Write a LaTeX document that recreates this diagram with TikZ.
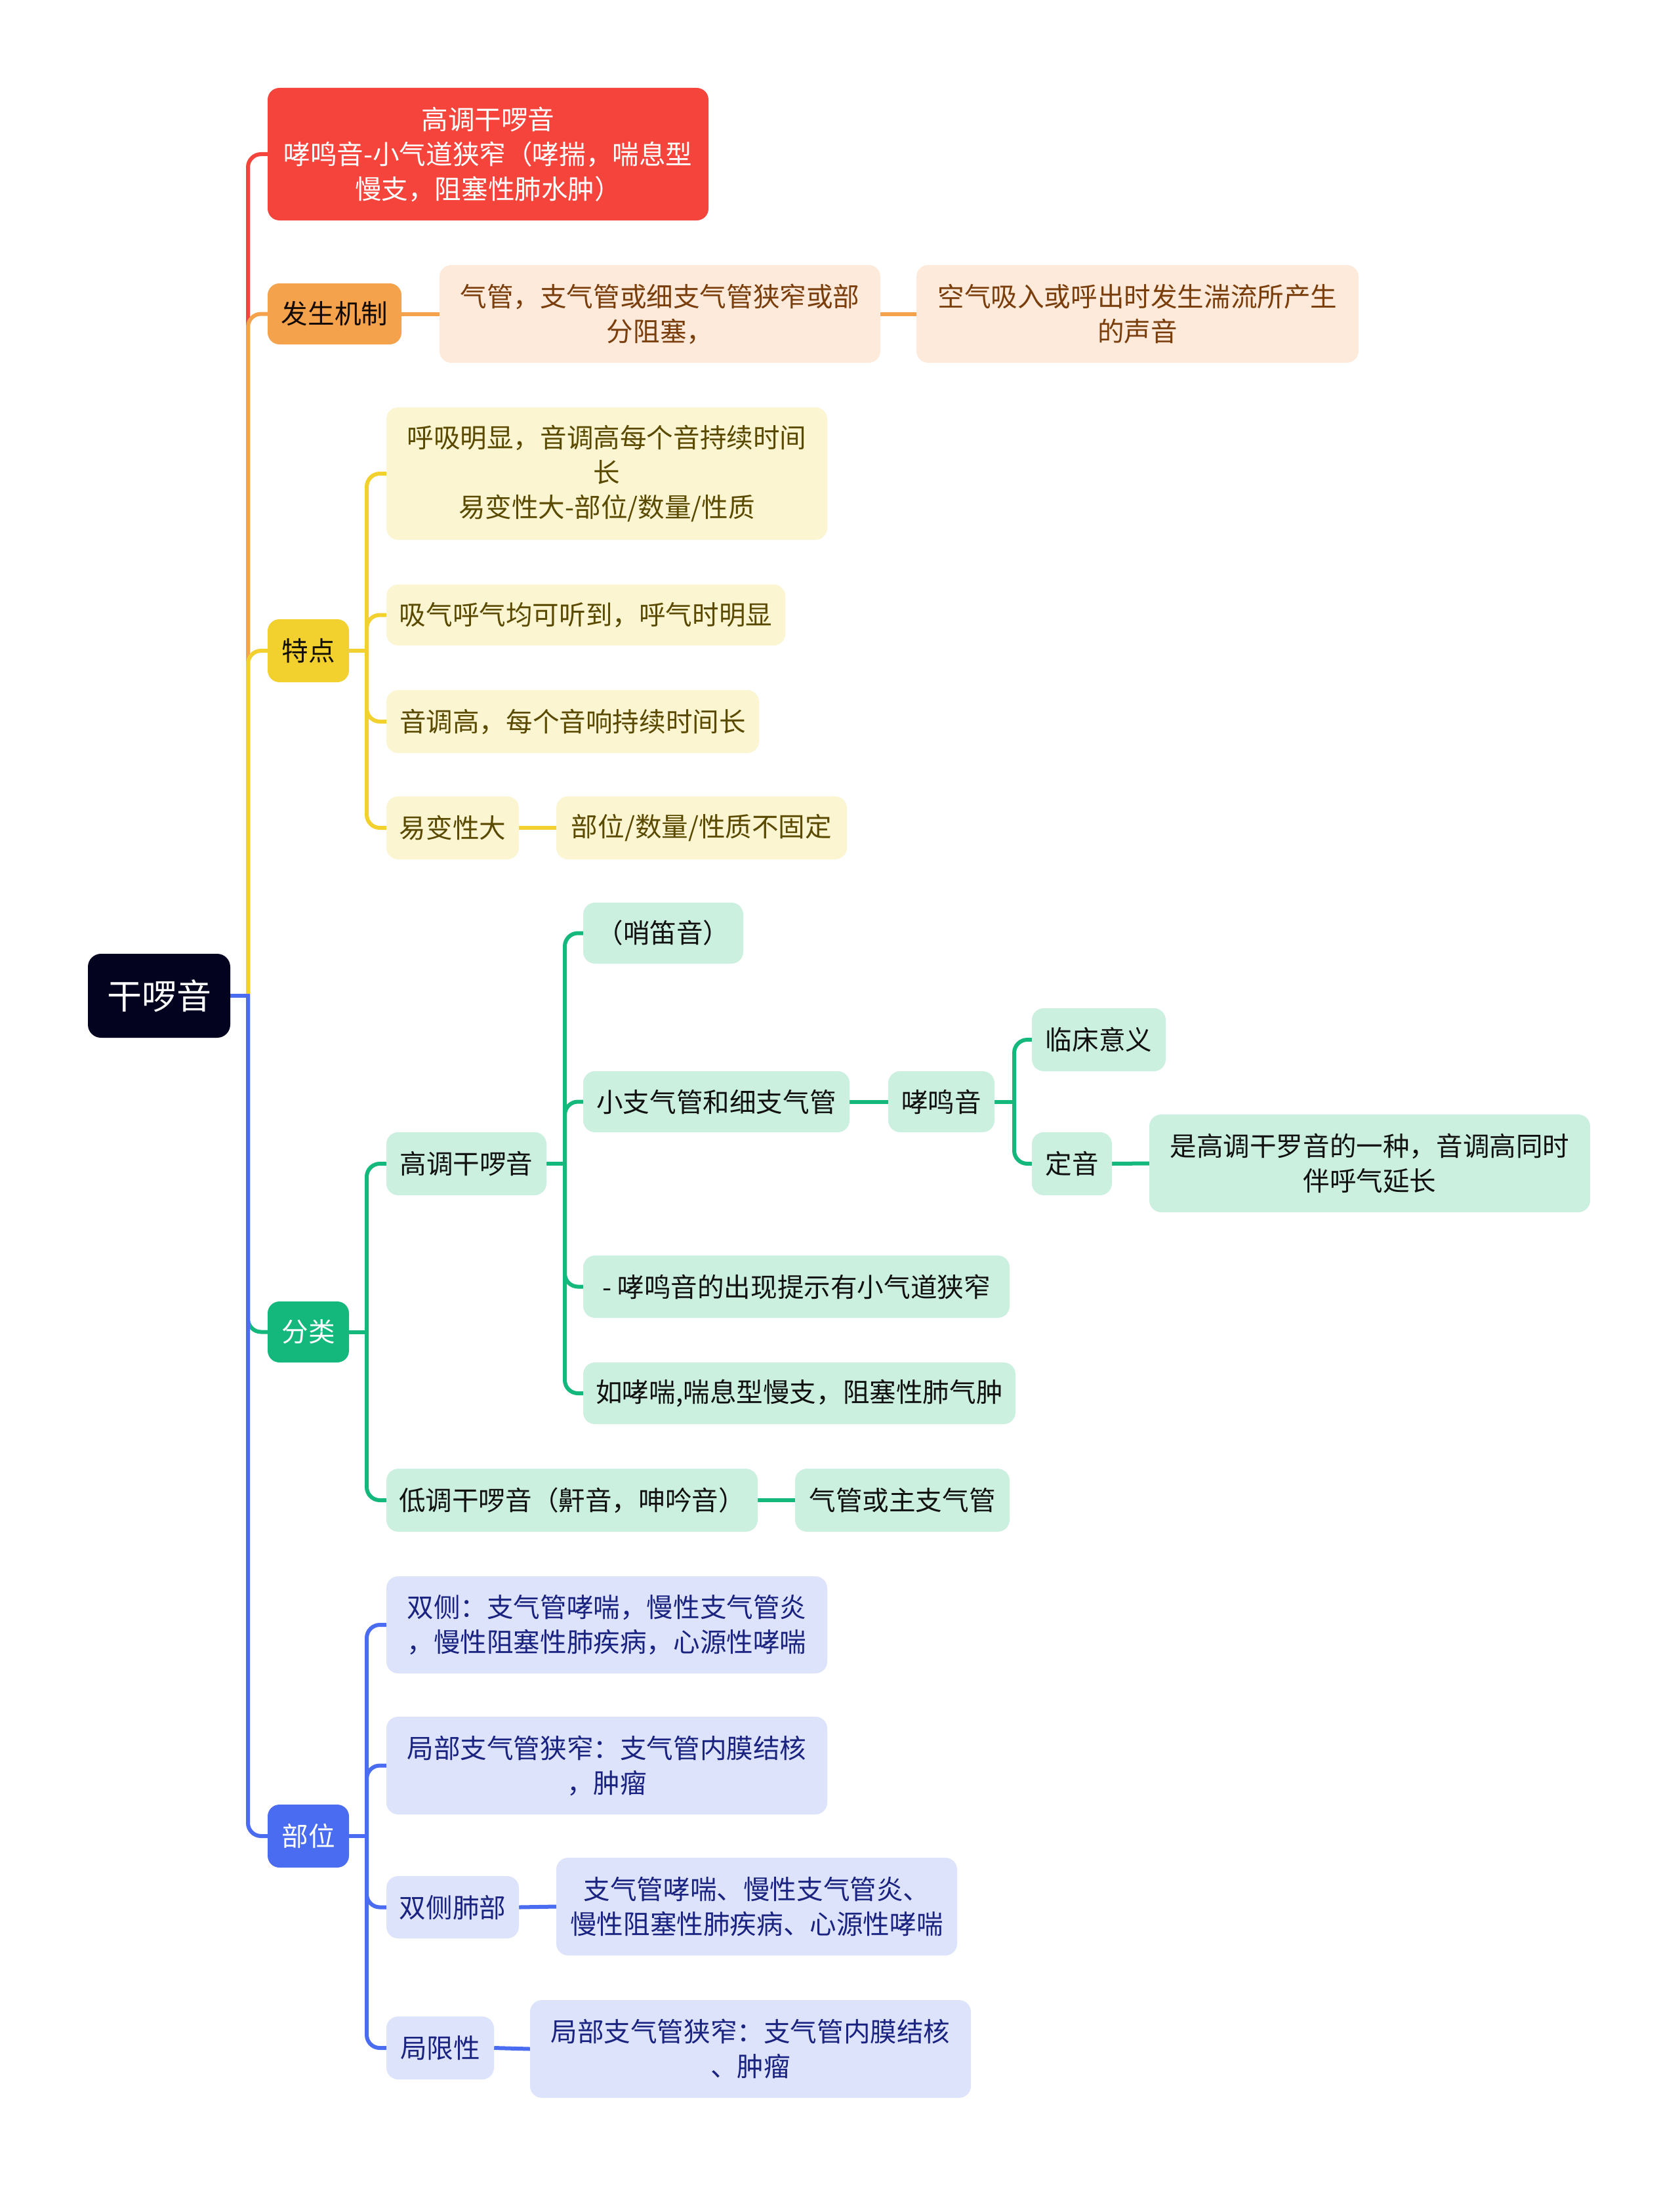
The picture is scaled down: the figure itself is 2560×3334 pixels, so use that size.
\documentclass[tikz,border=0pt]{standalone}
\usepackage{fontspec}
\setmainfont{Noto Sans CJK SC}
\usetikzlibrary{backgrounds}
\definecolor{cRoot}{HTML}{03031F}
\definecolor{cRed}{HTML}{F5443B}
\definecolor{cOr}{HTML}{F5A24C}
\definecolor{cOrL}{HTML}{FDEADA}
\definecolor{cOrT}{HTML}{7A3D0C}
\definecolor{cYe}{HTML}{F2D12F}
\definecolor{cYeL}{HTML}{FCF5D1}
\definecolor{cYeT}{HTML}{5A4A00}
\definecolor{cGr}{HTML}{14B87C}
\definecolor{cGrL}{HTML}{CCF0E0}
\definecolor{cGrT}{HTML}{111111}
\definecolor{cBl}{HTML}{4A6CF0}
\definecolor{cBlL}{HTML}{DDE3FB}
\definecolor{cBlT}{HTML}{1A2380}
\tikzset{
  bx/.style n args={3}{rounded corners=18pt, inner sep=0pt, align=center,
    font=\fontsize{40.6}{53}\selectfont, fill=#1, text=#2, minimum width=#3},
  ln/.style={line width=6pt, draw=#1},
}
\newcommand\tconn[4]{%
  \draw[ln=#1, line cap=rect] (#2.east) -- (#2.east -| #3);
  \draw[ln=#1, rounded corners=20pt] (#2.east -| #3) |- (#4.west);}
\begin{document}
\begin{tikzpicture}[x=1pt,y=-1pt]
\useasboundingbox (0,0) rectangle (2560,3334);
% branch coordinates
\coordinate (v0) at (378,0);
\coordinate (v1) at (559,0);
\coordinate (v2) at (861,0);
\coordinate (v3) at (1546,0);
% root
\node[bx={cRoot}{white}{217pt}, minimum height=128pt, rounded corners=20pt,
  font=\fontsize{53}{64}\selectfont] (root) at (242.5,1518) {干啰音};
% red
\node[bx={cRed}{white}{672pt}, minimum height=202pt] (red) at (744,235)
  {高调干啰音\\哮鸣音-小气道狭窄（哮揣，喘息型\\慢支，阻塞性肺水肿）};
% mechanism
\node[bx={cOr}{black!85!cOrT}{204pt}, minimum height=93pt] (mech) at (510,478.5) {发生机制};
\node[bx={cOrL}{cOrT}{672pt}, minimum height=149pt] (mech1) at (1006,478.5)
  {气管，支气管或细支气管狭窄或部\\分阻塞，};
\node[bx={cOrL}{cOrT}{674pt}, minimum height=149pt] (mech2) at (1734,478.5)
  {空气吸入或呼出时发生湍流所产生\\的声音};
% features
\node[bx={cYe}{black!80!cYeT}{124pt}, minimum height=96pt] (feat) at (470,992) {特点};
\node[bx={cYeL}{cYeT}{672pt}, minimum height=202pt] (f1) at (925,722)
  {呼吸明显，音调高每个音持续时间\\长\\易变性大-部位/数量/性质};
\node[bx={cYeL}{cYeT}{608pt}, minimum height=93pt] (f2) at (893,937.5)
  {吸气呼气均可听到，呼气时明显};
\node[bx={cYeL}{cYeT}{568pt}, minimum height=96pt] (f3) at (873,1100)
  {音调高，每个音响持续时间长};
\node[bx={cYeL}{cYeT}{202pt}, minimum height=96pt] (f4) at (690,1262) {易变性大};
\node[bx={cYeL}{cYeT}{443pt}, minimum height=96pt] (f4a) at (1069.5,1262)
  {部位/数量/性质不固定};
% classification
\node[bx={cGr}{white}{124pt}, minimum height=93pt] (cls) at (470,2030.5) {分类};
\node[bx={cGrL}{cGrT}{244pt}, minimum height=96pt] (hi) at (711,1774) {高调干啰音};
\node[bx={cGrL}{cGrT}{244pt}, minimum height=93pt] (h1) at (1011,1422.5) {（哨笛音）};
\node[bx={cGrL}{cGrT}{406pt}, minimum height=93pt] (h2) at (1092,1679.5) {小支气管和细支气管};
\node[bx={cGrL}{cGrT}{162pt}, minimum height=93pt] (h2a) at (1435,1679.5) {哮鸣音};
\node[bx={cGrL}{cGrT}{204pt}, minimum height=96pt] (cl) at (1675,1585) {临床意义};
\node[bx={cGrL}{cGrT}{122pt}, minimum height=96pt] (dy) at (1634,1774) {定音};
\node[bx={cGrL}{cGrT}{672pt}, minimum height=149pt] (dy1) at (2088,1773.5)
  {是高调干罗音的一种，音调高同时\\伴呼气延长};
\node[bx={cGrL}{cGrT}{650pt}, minimum height=95pt] (h3) at (1214,1961.5)
  {- 哮鸣音的出现提示有小气道狭窄};
\node[bx={cGrL}{cGrT}{659pt}, minimum height=94pt] (h4) at (1218.5,2124)
  {如哮喘,喘息型慢支，阻塞性肺气肿};
\node[bx={cGrL}{cGrT}{566pt}, minimum height=96pt] (lo) at (872,2287)
  {低调干啰音（鼾音，呻吟音）};
\node[bx={cGrL}{cGrT}{327pt}, minimum height=96pt] (lo1) at (1375.5,2287) {气管或主支气管};
% position
\node[bx={cBl}{white}{124pt}, minimum height=96pt] (pos) at (470,2799) {部位};
\node[bx={cBlL}{cBlT}{672pt}, minimum height=148pt] (p1) at (925,2477)
  {双侧：支气管哮喘，慢性支气管炎\\，慢性阻塞性肺疾病，心源性哮喘};
\node[bx={cBlL}{cBlT}{672pt}, minimum height=149pt] (p2) at (925,2691.5)
  {局部支气管狭窄：支气管内膜结核\\，肿瘤};
\node[bx={cBlL}{cBlT}{202pt}, minimum height=95pt] (p3) at (690,2907.5) {双侧肺部};
\node[bx={cBlL}{cBlT}{611pt}, minimum height=149pt] (p3a) at (1153.5,2906.5)
  {支气管哮喘、慢性支气管炎、\\慢性阻塞性肺疾病、心源性哮喘};
\node[bx={cBlL}{cBlT}{164pt}, minimum height=96pt] (p4) at (671,3122) {局限性};
\node[bx={cBlL}{cBlT}{672pt}, minimum height=149pt] (p4a) at (1144,3123.5)
  {局部支气管狭窄：支气管内膜结核\\、肿瘤};
% connectors
\begin{pgfonlayer}{background}
\fill[white] (0,0) rectangle (2560,3334);
\tconn{cRed}{root}{v0}{red}
\tconn{cOr}{root}{v0}{mech}
\tconn{cYe}{root}{v0}{feat}
\tconn{cGr}{root}{v0}{cls}
\tconn{cBl}{root}{v0}{pos}
\draw[ln=cOr] (mech.east) -- (mech1.west);
\draw[ln=cOr] (mech1.east) -- (mech2.west);
\tconn{cYe}{feat}{v1}{f1}
\tconn{cYe}{feat}{v1}{f2}
\tconn{cYe}{feat}{v1}{f3}
\tconn{cYe}{feat}{v1}{f4}
\draw[ln=cYe] (f4.east) -- (f4a.west);
\tconn{cGr}{cls}{v1}{hi}
\tconn{cGr}{cls}{v1}{lo}
\tconn{cGr}{hi}{v2}{h1}
\tconn{cGr}{hi}{v2}{h2}
\tconn{cGr}{hi}{v2}{h3}
\tconn{cGr}{hi}{v2}{h4}
\draw[ln=cGr] (h2.east) -- (h2a.west);
\tconn{cGr}{h2a}{v3}{cl}
\tconn{cGr}{h2a}{v3}{dy}
\draw[ln=cGr] (dy.east) -- (dy1.west);
\draw[ln=cGr] (lo.east) -- (lo1.west);
\tconn{cBl}{pos}{v1}{p1}
\tconn{cBl}{pos}{v1}{p2}
\tconn{cBl}{pos}{v1}{p3}
\tconn{cBl}{pos}{v1}{p4}
\draw[ln=cBl] (p3.east) -- (p3a.west);
\draw[ln=cBl] (p4.east) -- (p4a.west);
\end{pgfonlayer}
\end{tikzpicture}
\end{document}
